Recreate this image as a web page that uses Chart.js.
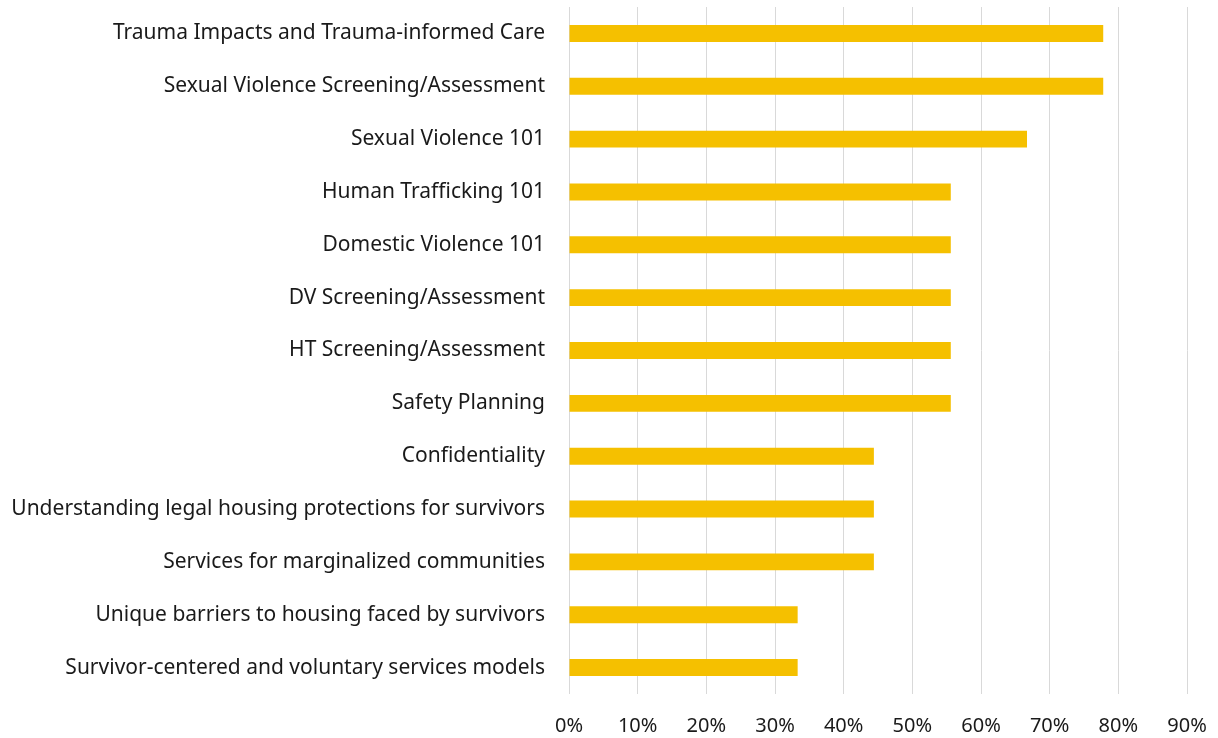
<!DOCTYPE html>
<html>
<head>
<meta charset="utf-8">
<script src="https://cdn.jsdelivr.net/npm/chart.js@4.4.1/dist/chart.umd.min.js"></script>
<style>
  html, body { margin: 0; padding: 0; background: #fff; }
  #wrap { width: 1218px; height: 738px; }
</style>
</head>
<body>
<div id="wrap"><canvas id="trainingChart"></canvas></div>
<script>
// Training topics and share of respondents
const topics = [
    'Trauma Impacts and Trauma-informed Care',
    'Sexual Violence Screening/Assessment',
    'Sexual Violence 101',
    'Human Trafficking 101',
    'Domestic Violence 101',
    'DV Screening/Assessment',
    'HT Screening/Assessment',
    'Safety Planning',
    'Confidentiality',
    'Understanding legal housing protections for survivors',
    'Services for marginalized communities',
    'Unique barriers to housing faced by survivors',
    'Survivor-centered and voluntary services models'
];
const shares = [77.8, 77.8, 66.7, 55.6, 55.6, 55.6, 55.6, 55.6, 44.4, 44.4, 44.4, 33.3, 33.3];
const xTicks = [0, 10, 20, 30, 40, 50, 60, 70, 80, 90];

Chart.defaults.font.family = '"Noto Sans", sans-serif';
Chart.defaults.color = '#1a1a1a';

const ctx = document.getElementById('trainingChart').getContext('2d');
const trainingChart = new Chart(ctx, {
    type: 'bar',
    data: {
        labels: topics,
        datasets: [{
            data: shares,
            backgroundColor: '#F5C000',
            barPercentage: 0.32,
            categoryPercentage: 1.0
        }]
    },
    options: {
        indexAxis: 'y',
        responsive: true,
        maintainAspectRatio: false,
        animation: false,
        layout: { padding: { top: 7, right: 31, left: 0, bottom: 0 } },
        plugins: {
            legend: { display: false },
            tooltip: { enabled: false }
        },
        scales: {
            x: {
                min: 0,
                max: 90,
                afterBuildTicks: (scale) => { scale.ticks = xTicks.map(v => ({ value: v })); },
                afterFit: (scale) => {
                    scale.height = 44;
                    scale.paddingLeft = 0;
                    scale.paddingRight = 0;
                },
                grid: { color: '#d9d9d9', lineWidth: 1, drawTicks: false },
                border: { display: false },
                ticks: {
                    padding: 20,
                    font: { size: 20 },
                    callback: (v) => v + '%'
                }
            },
            y: {
                afterFit: (scale) => {
                    scale.width = 569;
                    scale.paddingTop = 0;
                    scale.paddingBottom = 0;
                },
                grid: { display: false, drawTicks: false },
                border: { display: false },
                ticks: {
                    padding: 24,
                    font: { size: 21 },
                    autoSkip: false
                }
            }
        }
    }
});
</script>
</body>
</html>
